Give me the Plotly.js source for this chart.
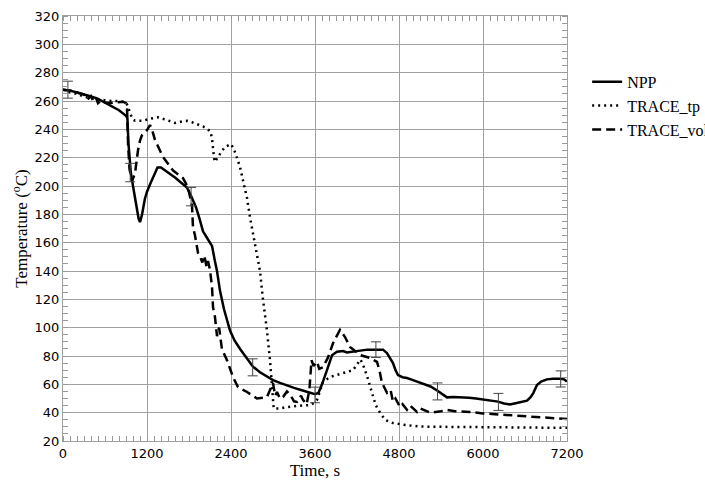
<!DOCTYPE html>
<html>
<head>
<meta charset="utf-8">
<script src="https://cdn.plot.ly/plotly-3.0.1.min.js"></script>
<style>html,body{margin:0;padding:0;background:#fff;}#chart{width:705px;height:481px;}</style>
</head>
<body>
<div id="chart"></div>
<script>
// NPP measured data
const nppTime = [0,100,200,300,400,500,600,700,800,900,920,935,950,970,1000,1040,1080,1100,1130,1170,1200,1250,1300,1350,1400,1450,1500,1600,1700,1770,1830,1860,1900,1950,2000,2050,2100,2130,2170,2200,2243,2300,2386,2450,2530,2600,2714,2814,2900,3000,3100,3200,3300,3400,3500,3600,3650,3700,3771,3843,3914,4000,4057,4150,4243,4350,4450,4571,4628,4670,4714,4750,4786,4850,4914,5000,5057,5150,5250,5350,5420,5486,5580,5671,5800,5900,6000,6100,6214,6300,6386,6450,6550,6629,6680,6720,6771,6830,6914,7000,7100,7160,7200];
const nppTemp = [268,267.3,266,264.8,263.3,261.5,259,256.5,253.5,249.5,248,230,218,209,200,188,177,174.5,180,191,196,202,208,213,213,211,209.5,206,202,199,193,190,185,177,168,164,160,157.5,147,140,126,113,98,91,85,80,72.5,68.5,66,63,61,59,57.5,56,54.5,53,54,60,70,80.5,83,83.5,82.5,83,84,84.5,84.5,84.5,82,79,75,70,66.5,65,64.5,63,62,60.5,58.5,55.5,53,50.8,51,51,50.5,50,49.2,48.5,47.8,46.5,45.8,46.5,47.5,48.5,51,54,59.5,62,63.5,64,64,63.5,62];

// NPP uncertainty bars
const errTime = [70,960,1830,2710,3600,4470,5350,6220,7110];
const errTemp = [268,209.5,192.5,72,52.5,84.5,55,47.6,63.8];
const errHalf = [6,6.5,6.5,6,5.5,5.5,6,6,5.7];

// TRACE_tp
const tpTime = [0,100,200,300,400,500,600,700,800,900,930,960,1000,1029,1100,1143,1243,1357,1486,1600,1700,1771,1843,1914,2000,2071,2110,2129,2143,2160,2171,2214,2260,2314,2360,2400,2443,2490,2529,2571,2629,2671,2714,2771,2814,2857,2914,2957,2986,3010,3100,3200,3343,3450,3529,3590,3629,3670,3714,3814,3900,4000,4143,4200,4250,4300,4343,4414,4470,4529,4600,4671,4714,4857,4957,5100,5400,6000,6600,7200];
const tpTemp = [268,266,265,263,262,261,260.5,260,260,259,256,251,247,246,246,246,247.5,248.5,246.5,244.5,245.5,246,245,243.8,242,240,238,233,224,219,217,220.5,224,227.5,228.5,229.6,226,219,213.4,204,191.5,178,166.8,152,140,120,98,77,61,43,43,44,44.7,45,45.4,47,49,55,61.6,65.2,66.5,68,70,74,77.5,72,66,54,45,40,35,33.5,32.7,31.5,30.8,30.2,30,29.7,29.5,29.3];

// TRACE_vol
const volTime = [0,100,200,300,350,400,433,470,500,550,600,671,750,857,900,914,929,950,986,1010,1029,1071,1100,1129,1200,1243,1270,1314,1429,1571,1714,1786,1843,1857,1886,1929,1960,1990,2020,2050,2071,2100,2129,2143,2171,2200,2230,2270,2343,2430,2500,2629,2771,2914,2960,3000,3030,3057,3100,3143,3200,3243,3300,3343,3400,3429,3480,3520,3550,3580,3629,3660,3714,3786,3857,3957,4029,4100,4243,4386,4486,4520,4557,4629,4680,4714,4750,4814,4850,4914,4960,5057,5100,5243,5400,5486,5600,5814,6000,6200,6486,6800,7200];
const volTemp = [268,267.5,266,264.5,261,263.5,260,262.5,258.5,260.5,259,258.6,259,259.5,258.5,256,230,212,203.5,206,209,225,232,236,239.5,243,240,232.5,220.5,211,205.6,199,186,171,165,152.7,150,146,151,143,147,140.7,128.7,114.6,107.5,94,100,85,77,65,58,54.6,50,51,57,61,52,54.6,50,51,55,53,48,47.6,52,49,46,56,77,73,76,71,72,79,89,98.5,93.4,86.4,80.7,78.6,75.8,70,61,54,56,47.6,50,44,46,42,45,40.5,43,40,41,42,41,40.5,39.5,38.8,37.5,36.5,35.5];

const xTicks = [0,1200,2400,3600,4800,6000,7200];
const yTicks = [20,40,60,80,100,120,140,160,180,200,220,240,260,280,300,320];

const traces = [
  {x: nppTime, y: nppTemp, name: 'NPP', mode: 'lines', line: {color: '#000', width: 2.5}},
  {x: tpTime, y: tpTemp, name: 'TRACE_tp', mode: 'lines', line: {color: '#000', width: 2.5, dash: '2px,4px'}},
  {x: volTime, y: volTemp, name: 'TRACE_vol', mode: 'lines', line: {color: '#000', width: 2.5, dash: '9px,5px'}},
  {x: errTime, y: errTemp, mode: 'markers', showlegend: false, hoverinfo: 'skip',
   marker: {size: 1, color: 'rgba(0,0,0,0)'},
   error_y: {type: 'data', array: errHalf, visible: true, color: '#444', thickness: 1, width: 5}}
];

const layout = {
  width: 705, height: 481,
  margin: {l: 63, r: 138, t: 16, b: 40, autoexpand: false},
  paper_bgcolor: '#fff', plot_bgcolor: '#fff',
  font: {family: 'DejaVu Sans', color: '#000', size: 13},
  showlegend: true,
  legend: {x: 1.04, y: 0.885, xanchor: 'left', yanchor: 'top', bgcolor: 'rgba(0,0,0,0)',
           font: {family: 'Liberation Serif', size: 16, color: '#000'}, tracegroupgap: 0},
  xaxis: {
    range: [0, 7200], tickmode: 'array', tickvals: xTicks, ticktext: xTicks.map(String),
    showgrid: true, gridcolor: '#a0a0a0', gridwidth: 1,
    showline: true, linecolor: '#a0a0a0', linewidth: 1, mirror: 'ticks',
    ticks: '', zeroline: false,
    minor: {dtick: 100, tick0: 0, ticks: 'inside', ticklen: 5, tickcolor: '#999', showgrid: false},
    tickfont: {family: 'DejaVu Sans', size: 13, color: '#000'},
    title: {text: 'Time, s', font: {family: 'Liberation Serif', size: 17, color: '#000'}, standoff: 4}
  },
  yaxis: {
    range: [20, 320], tickmode: 'array', tickvals: yTicks, ticktext: yTicks.map(String),
    showgrid: true, gridcolor: '#a0a0a0', gridwidth: 1,
    showline: true, linecolor: '#a0a0a0', linewidth: 1, mirror: 'ticks',
    ticks: '', zeroline: false,
    minor: {dtick: 5, tick0: 0, ticks: 'inside', ticklen: 5, tickcolor: '#999', showgrid: false},
    tickfont: {family: 'DejaVu Sans', size: 13, color: '#000'},
    title: {text: 'Temperature (<sup>o</sup>C)', font: {family: 'Liberation Serif', size: 17, color: '#000'}, standoff: 2}
  }
};

Plotly.newPlot('chart', traces, layout, {staticPlot: true, displayModeBar: false});
</script>
</body>
</html>
